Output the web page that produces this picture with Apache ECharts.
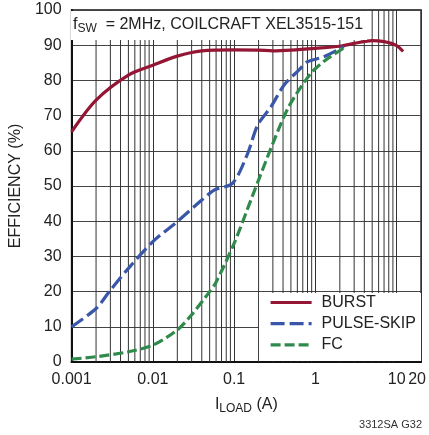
<!DOCTYPE html>
<html>
<head>
<meta charset="utf-8">
<script src="https://cdn.jsdelivr.net/npm/echarts@6/dist/echarts.min.js"></script>
<style>
html,body{margin:0;padding:0;background:#fff;}
#chart{width:429px;height:435px;}
</style>
</head>
<body>
<div id="chart"></div>
<script>
// ---- data ----
const xTickLabels = [0.001, 0.01, 0.1, 1, 10, 20];
const yTicks = [0, 10, 20, 30, 40, 50, 60, 70, 80, 90, 100];
const minorGridX = [0.002,0.003,0.004,0.005,0.006,0.007,0.008,0.009,
                    0.02,0.03,0.04,0.05,0.06,0.07,0.08,0.09,
                    0.2,0.3,0.4,0.5,0.6,0.7,0.8,0.9,
                    2,3,4,5,6,7,8,9];

const burstX = [0.001, 0.002, 0.005, 0.01, 0.02, 0.04, 0.1, 0.2, 0.3, 0.5, 1, 2, 3, 5, 7, 10, 12];
const burstY = [65.4, 74.4, 81.5, 84.3, 86.9, 88.4, 88.7, 88.6, 88.4, 88.6, 89.1, 89.7, 90.5, 91.3, 91.0, 89.9, 88.2];

const pulseX = [0.001, 0.002, 0.003, 0.005, 0.01, 0.02, 0.04, 0.0575, 0.096, 0.147, 0.195, 0.284, 0.413, 0.63, 0.8, 1.27, 2.24];
const pulseY = [10.0, 15.2, 20.4, 26.6, 34.2, 39.9, 46.0, 48.9, 50.8, 59.3, 67.3, 72.5, 78.7, 83.0, 85.3, 86.7, 89.6];

const fcX = [0.001, 0.002, 0.005, 0.01, 0.02, 0.03, 0.045, 0.059, 0.1, 0.167, 0.3, 0.47, 0.88, 1.34, 2.4];
const fcY = [0.8, 1.5, 2.9, 4.8, 9.1, 13.4, 18.6, 22.4, 33.7, 47.0, 62.1, 72.5, 82.0, 85.8, 89.6];

const seriesNames = ['BURST', 'PULSE-SKIP', 'FC'];
const colors = ['#941634', '#3a56a8', '#2f8a4b'];

const FONT = "'Liberation Sans', Arial, sans-serif";
const TXT = '#222';
const FS = 16;

function pairs(xs, ys) { return xs.map((x, i) => [x, ys[i]]); }

const chart = echarts.init(document.getElementById('chart'));

const option = {
  animation: false,
  backgroundColor: '#fff',
  textStyle: { fontFamily: FONT },
  grid: {
    left: 70, right: 7, top: 10, bottom: 73,
    show: true, borderColor: '#111', borderWidth: 1.5, backgroundColor: 'transparent'
  },
  title: {
    text: '{f|f}{s|SW}{t|  = 2MHz, COILCRAFT XEL3515-151}',
    left: 73, top: 15, z: 20, padding: 0,
    textStyle: {
      fontWeight: 'normal',
      rich: {
        f: { fontFamily: FONT, fontSize: FS, color: TXT, fontWeight: 'normal' },
        s: { fontFamily: FONT, fontSize: 12, color: TXT, fontWeight: 'normal', verticalAlign: 'bottom', padding: [8, 0, 0, 0] },
        t: { fontFamily: FONT, fontSize: FS, color: TXT, fontWeight: 'normal' }
      }
    }
  },
  legend: {
    data: seriesNames,
    orient: 'vertical',
    left: 269, top: 294.5, z: 20, padding: 0,
    itemWidth: 41, itemHeight: 14, itemGap: 5.2,
    itemStyle: { opacity: 0, color: 'rgba(0,0,0,0)', borderWidth: 0 },
    lineStyle: { width: 3.2 },
    textStyle: { fontFamily: FONT, fontSize: FS, color: TXT, lineHeight: 16, padding: [0, 0, 0, 5] }
  },
  xAxis: {
    type: 'log', logBase: 10, min: 0.001, max: 20,
    axisLine: { show: true, lineStyle: { color: '#111', width: 2 } },
    axisTick: { show: false },
    splitLine: { show: true, lineStyle: { color: '#333', width: 1 } },
    axisLabel: {
      margin: 10, color: TXT, fontFamily: FONT, fontSize: FS,
      customValues: xTickLabels,
      formatter: function (v) {
        for (const t of xTickLabels) {
          if (Math.abs(Math.log10(t) - Math.log10(v)) < 1e-6) {
            return t === 20 ? '{r|20}' : String(t);
          }
        }
        return '';
      },
      rich: { r: { fontFamily: FONT, fontSize: FS, color: TXT, padding: [0, 8, 0, 0] } }
    },
    name: '{i|I}{l|LOAD}{a| (A)}',
    nameLocation: 'middle', nameGap: 33,
    nameTextStyle: {
      rich: {
        i: { fontFamily: FONT, fontSize: FS, color: TXT },
        l: { fontFamily: FONT, fontSize: 12, color: TXT, verticalAlign: 'bottom', padding: [8, 0, 0, 0] },
        a: { fontFamily: FONT, fontSize: FS, color: TXT }
      }
    }
  },
  yAxis: {
    type: 'value', min: 0, max: 100, interval: 10,
    axisLine: { show: true, lineStyle: { color: '#111', width: 2 } },
    axisTick: { show: false },
    splitLine: { show: true, lineStyle: { color: '#444', width: 1 } },
    axisLabel: {
      margin: 10, color: TXT, fontFamily: FONT, fontSize: FS,
      formatter: function (v) { return yTicks.indexOf(v) >= 0 ? String(v) : ''; }
    },
    name: 'EFFICIENCY (%)',
    nameLocation: 'middle', nameGap: 47,
    nameTextStyle: { fontFamily: FONT, fontSize: FS, color: TXT }
  },
  graphic: {
    elements: [
      { type: 'rect', z: 10, shape: { x: 71, y: 11, width: 296, height: 29 }, style: { fill: '#fff' } },
      { type: 'rect', z: 10, shape: { x: 259, y: 293, width: 162, height: 68 }, style: { fill: '#fff' } },
      { type: 'text', z: 20, right: 7, bottom: 5, style: { text: '3312SA G32', font: "11px " + FONT, fill: '#333' } }
    ]
  },
  series: [
    {
      type: 'custom', name: 'grid', silent: true, z: 1,
      data: minorGridX.map(v => [v]),
      renderItem: function (params, api) {
        const p0 = api.coord([api.value(0), 0]);
        const p1 = api.coord([api.value(0), 100]);
        return { type: 'line', shape: { x1: p0[0], y1: p0[1], x2: p1[0], y2: p1[1] },
                 style: { stroke: '#333', lineWidth: 1 } };
      }
    },
    {
      name: seriesNames[0], type: 'line', z: 5, data: pairs(burstX, burstY),
      showSymbol: false, symbol: 'none', smooth: 0.3,
      lineStyle: { color: colors[0], width: 3.2 }, itemStyle: { color: colors[0] }
    },
    {
      name: seriesNames[1], type: 'line', z: 5, data: pairs(pulseX, pulseY),
      showSymbol: false, symbol: 'none', smooth: 0.3,
      lineStyle: { color: colors[1], width: 3.2, type: [14, 5] }, itemStyle: { color: colors[1] }
    },
    {
      name: seriesNames[2], type: 'line', z: 5, data: pairs(fcX, fcY),
      showSymbol: false, symbol: 'none', smooth: 0.3,
      lineStyle: { color: colors[2], width: 3.2, type: [10, 4] }, itemStyle: { color: colors[2] }
    }
  ]
};
chart.setOption(option);
</script>
</body>
</html>
